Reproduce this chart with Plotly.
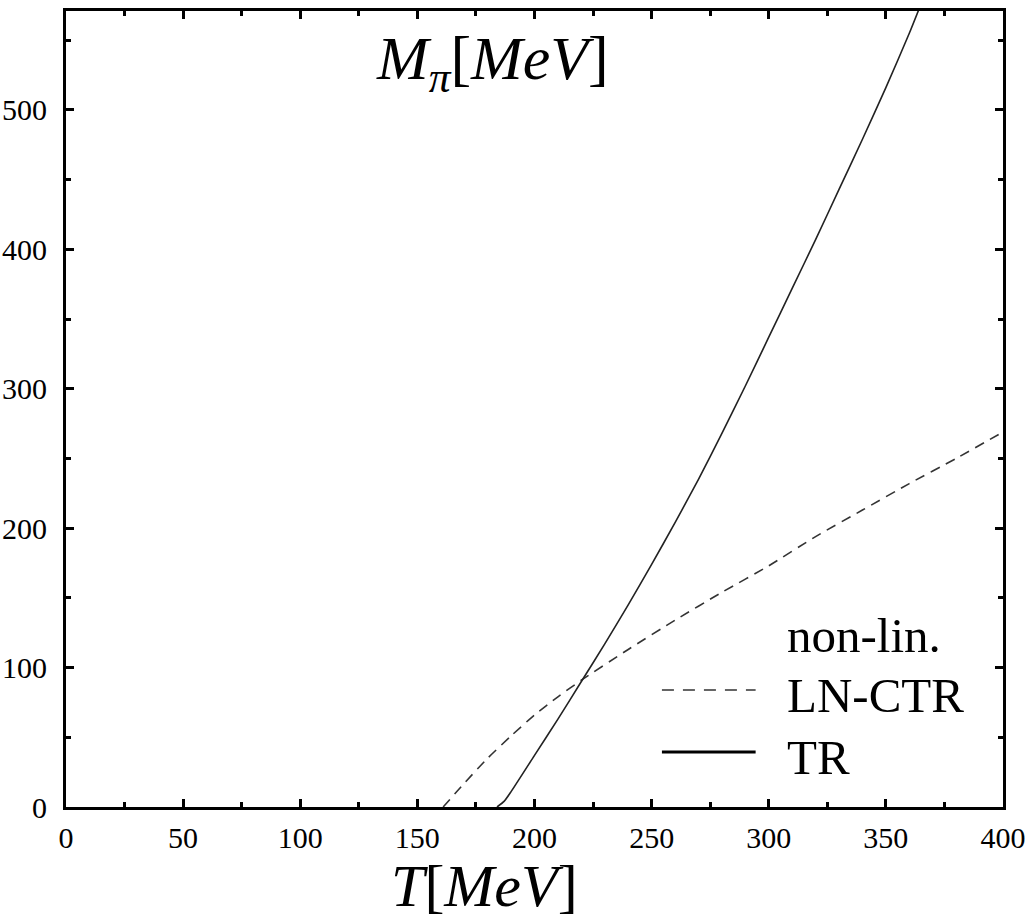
import plotly.graph_objects as go

# LN-CTR (dashed) curve
T_ln = [161, 170, 180, 190, 200, 210, 220, 240, 260, 280, 300, 320, 340, 360, 380, 400]
M_ln = [0, 17, 35, 51, 66, 79, 91, 113, 134, 154, 173, 194, 213, 232, 250, 269]

# TR (solid) curve
T_tr = [184, 187, 190, 200, 210, 220, 230, 240, 250, 260, 270, 280, 290, 300, 310, 320, 330, 340, 350, 360, 365]
M_tr = [0, 4, 11, 37, 63, 90, 117, 145, 174, 204, 235, 268, 302, 337, 372, 407, 443, 479, 516, 555, 576]

x_ticks = [0, 50, 100, 150, 200, 250, 300, 350, 400]
y_ticks = [0, 100, 200, 300, 400, 500]

FONT = "Liberation Serif"

fig = go.Figure()
fig.add_trace(go.Scatter(x=T_ln, y=M_ln, mode="lines", name="LN-CTR",
                         line=dict(color="#333333", width=1.6, dash="10px,7px", shape="spline", smoothing=0.6),
                         showlegend=False))
fig.add_trace(go.Scatter(x=T_tr, y=M_tr, mode="lines", name="TR",
                         line=dict(color="#222222", width=1.6, shape="spline", smoothing=0.6),
                         showlegend=False))

axis_common = dict(
    showline=True, linecolor="black", linewidth=3, mirror="ticks",
    ticks="inside", ticklen=8, tickwidth=3, tickcolor="black",
    showgrid=False, zeroline=False, automargin=False,
    tickfont=dict(family=FONT, size=30, color="black"),
)

fig.update_xaxes(range=[0, 400], tickvals=x_ticks,
                 minor=dict(dtick=25, ticks="inside", ticklen=5, tickwidth=3, tickcolor="black"),
                 ticklabelstandoff=2, **axis_common)
fig.update_yaxes(range=[0, 571], tickvals=y_ticks,
                 minor=dict(dtick=50, ticks="inside", ticklen=5, tickwidth=3, tickcolor="black"),
                 ticklabelstandoff=10, **axis_common)

# Axis labels
fig.add_annotation(x=0.447, y=-0.143, xref="paper", yref="paper", showarrow=False,
                   text="<i>T</i>[<i>MeV</i>]", font=dict(family=FONT, size=60, color="black"),
                   xanchor="center", yanchor="bottom")
fig.add_annotation(x=0.455, y=0.935, xref="paper", yref="paper", showarrow=False,
                   text="<i>M</i><sub><i>π</i></sub>[<i>MeV</i>]", font=dict(family=FONT, size=62, color="black"),
                   xanchor="center", yanchor="middle")

# Legend (drawn manually)
LEG_FONT = dict(family=FONT, size=49, color="black")
fig.add_annotation(x=0.767, y=0.216, xref="paper", yref="paper", showarrow=False,
                   text="non-lin.", font=LEG_FONT, xanchor="left", yanchor="middle")
fig.add_annotation(x=0.767, y=0.1407, xref="paper", yref="paper", showarrow=False,
                   text="LN-CTR", font=LEG_FONT, xanchor="left", yanchor="middle")
fig.add_annotation(x=0.767, y=0.0628, xref="paper", yref="paper", showarrow=False,
                   text="TR", font=LEG_FONT, xanchor="left", yanchor="middle")
fig.add_shape(type="line", xref="paper", yref="paper", x0=0.636, x1=0.736, y0=0.147, y1=0.147,
              line=dict(color="#333333", width=1.6, dash="12px,9px"))
fig.add_shape(type="line", xref="paper", yref="paper", x0=0.636, x1=0.736, y0=0.069, y1=0.069,
              line=dict(color="black", width=3))

fig.update_layout(
    width=1032, height=921,
    margin=dict(l=66, r=29, t=11, b=114, autoexpand=False),
    plot_bgcolor="white", paper_bgcolor="white",
    showlegend=False,
)

fig.write_html("out.html")
